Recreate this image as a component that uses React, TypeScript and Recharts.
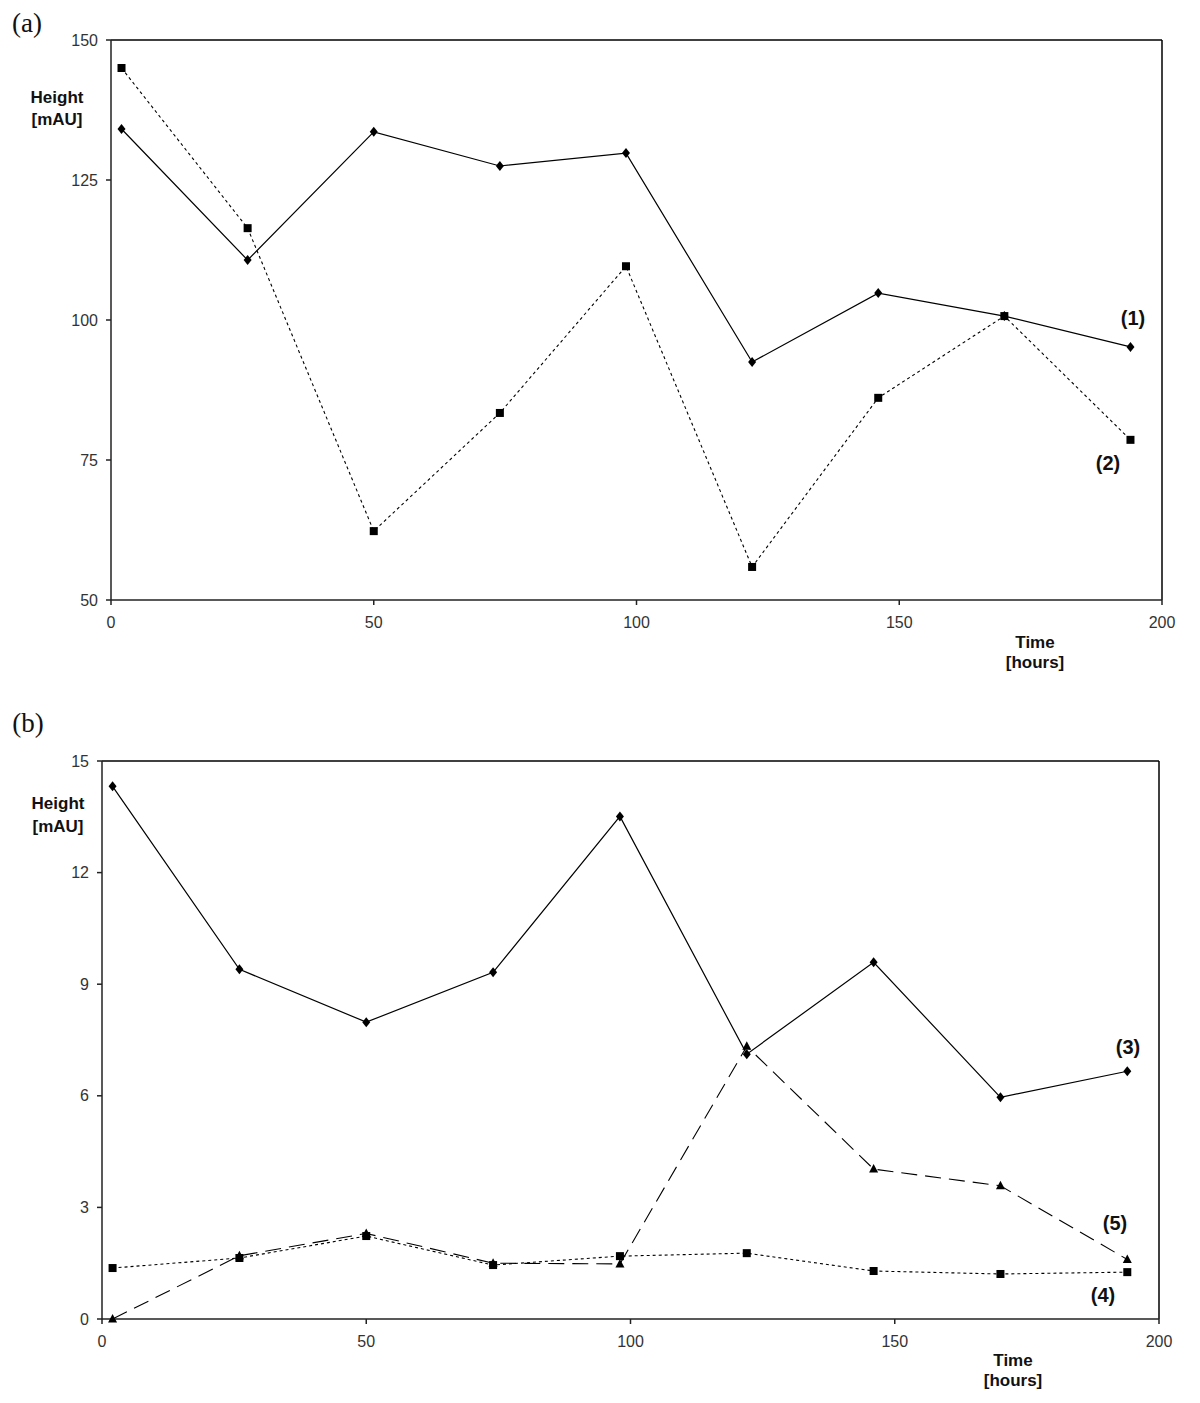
import { LineChart, Line, XAxis, YAxis, ReferenceLine } from 'recharts';

// sampling times (hours)
const hours = [2, 26, 50, 74, 98, 122, 146, 170, 194];

// panel (a)
const peak1 = [134.1, 110.7, 133.6, 127.5, 129.8, 92.5, 104.8, 100.7, 95.2];
const peak2 = [145, 116.4, 62.3, 83.4, 109.6, 55.9, 86.1, 100.7, 78.6];

// panel (b)
const peak3 = [14.32, 9.4, 7.98, 9.32, 13.51, 7.12, 9.59, 5.96, 6.66];
const peak4 = [1.37, 1.64, 2.23, 1.45, 1.69, 1.77, 1.29, 1.21, 1.26];
const peak5 = [0, 1.7, 2.3, 1.5, 1.48, 7.33, 4.03, 3.58, 1.6];

const xTicks = [0, 50, 100, 150, 200];
const yTicksA = [50, 75, 100, 125, 150];
const yTicksB = [0, 3, 6, 9, 12, 15];

const dataA = hours.map((h, i) => ({ h, p1: peak1[i], p2: peak2[i] }));
const dataB = hours.map((h, i) => ({ h, p3: peak3[i], p4: peak4[i], p5: peak5[i] }));

const sans = '"Liberation Sans", Arial, sans-serif';
const tickStyle = { fill: '#333', fontSize: 16, fontFamily: sans };

const Diamond = (props: any) => {
  const { cx, cy, index } = props;
  if (cx == null || cy == null) return <g key={index} />;
  return (
    <polygon
      key={index}
      points={`${cx},${cy - 5} ${cx + 4},${cy} ${cx},${cy + 5} ${cx - 4},${cy}`}
      fill="#000"
    />
  );
};

const Square = (props: any) => {
  const { cx, cy, index } = props;
  if (cx == null || cy == null) return <g key={index} />;
  return <rect key={index} x={cx - 4} y={cy - 4} width={8} height={8} fill="#000" />;
};

const Triangle = (props: any) => {
  const { cx, cy, index } = props;
  if (cx == null || cy == null) return <g key={index} />;
  return (
    <polygon
      key={index}
      points={`${cx},${cy - 5} ${cx + 4.5},${cy + 3.5} ${cx - 4.5},${cy + 3.5}`}
      fill="#000"
    />
  );
};

function Txt({ x, y, children, size = 17, bold = true, serif = false }: any) {
  return (
    <div
      style={{
        position: 'absolute',
        left: x,
        top: y,
        transform: 'translate(-50%, -50%)',
        whiteSpace: 'nowrap',
        lineHeight: 1,
        fontSize: size,
        fontWeight: bold ? 'bold' : 'normal',
        fontFamily: serif ? '"Liberation Serif", "Times New Roman", serif' : sans,
        color: '#111',
      }}
    >
      {children}
    </div>
  );
}

export default function App() {
  return (
    <div style={{ position: 'absolute', left: 0, top: 0, width: 1200, height: 1403, background: '#fff' }}>
      <div style={{ position: 'absolute', left: 0, top: 0 }}>
        <LineChart width={1200} height={700} data={dataA} margin={{ top: 40, left: 51, right: 38, bottom: 40 }}>
          <XAxis
            dataKey="h"
            type="number"
            domain={[0, 200]}
            ticks={xTicks}
            height={60}
            tickSize={5}
            tickMargin={12}
            tick={tickStyle}
            stroke="#222"
            strokeWidth={1.5}
          />
          <YAxis
            type="number"
            domain={[50, 150]}
            ticks={yTicksA}
            width={60}
            tickSize={5}
            tickMargin={8}
            tick={tickStyle}
            stroke="#222"
            strokeWidth={1.5}
          />
          <ReferenceLine y={150} stroke="#000" strokeWidth={1.5} />
          <ReferenceLine x={200} stroke="#000" strokeWidth={1.5} />
          <Line dataKey="p2" stroke="#000" strokeWidth={1.1} strokeDasharray="3 3" dot={Square} isAnimationActive={false} />
          <Line dataKey="p1" stroke="#000" strokeWidth={1.2} dot={Diamond} isAnimationActive={false} />
        </LineChart>
      </div>

      <div style={{ position: 'absolute', left: 0, top: 700 }}>
        <LineChart width={1200} height={703} data={dataB} margin={{ top: 61, left: 42, right: 41, bottom: 24 }}>
          <XAxis
            dataKey="h"
            type="number"
            domain={[0, 200]}
            ticks={xTicks}
            height={60}
            tickSize={5}
            tickMargin={12}
            tick={tickStyle}
            stroke="#222"
            strokeWidth={1.5}
          />
          <YAxis
            type="number"
            domain={[0, 15]}
            ticks={yTicksB}
            width={60}
            tickSize={5}
            tickMargin={8}
            tick={tickStyle}
            stroke="#222"
            strokeWidth={1.5}
          />
          <ReferenceLine y={15} stroke="#000" strokeWidth={1.5} />
          <ReferenceLine x={200} stroke="#000" strokeWidth={1.5} />
          <Line dataKey="p4" stroke="#000" strokeWidth={1.1} strokeDasharray="3 3" dot={Square} isAnimationActive={false} />
          <Line dataKey="p5" stroke="#000" strokeWidth={1.1} strokeDasharray="16 8" dot={Triangle} isAnimationActive={false} />
          <Line dataKey="p3" stroke="#000" strokeWidth={1.2} dot={Diamond} isAnimationActive={false} />
        </LineChart>
      </div>

      <Txt x={27} y={23} size={27} bold={false} serif>(a)</Txt>
      <Txt x={57} y={97}>Height</Txt>
      <Txt x={57} y={119}>[mAU]</Txt>
      <Txt x={1035} y={642}>Time</Txt>
      <Txt x={1035} y={662}>[hours]</Txt>
      <Txt x={1133} y={318} size={20}>(1)</Txt>
      <Txt x={1108} y={463} size={20}>(2)</Txt>

      <Txt x={28} y={723} size={27} bold={false} serif>(b)</Txt>
      <Txt x={58} y={803}>Height</Txt>
      <Txt x={58} y={826}>[mAU]</Txt>
      <Txt x={1013} y={1360}>Time</Txt>
      <Txt x={1013} y={1380}>[hours]</Txt>
      <Txt x={1128} y={1047} size={20}>(3)</Txt>
      <Txt x={1115} y={1223} size={20}>(5)</Txt>
      <Txt x={1103} y={1295} size={20}>(4)</Txt>
    </div>
  );
}
